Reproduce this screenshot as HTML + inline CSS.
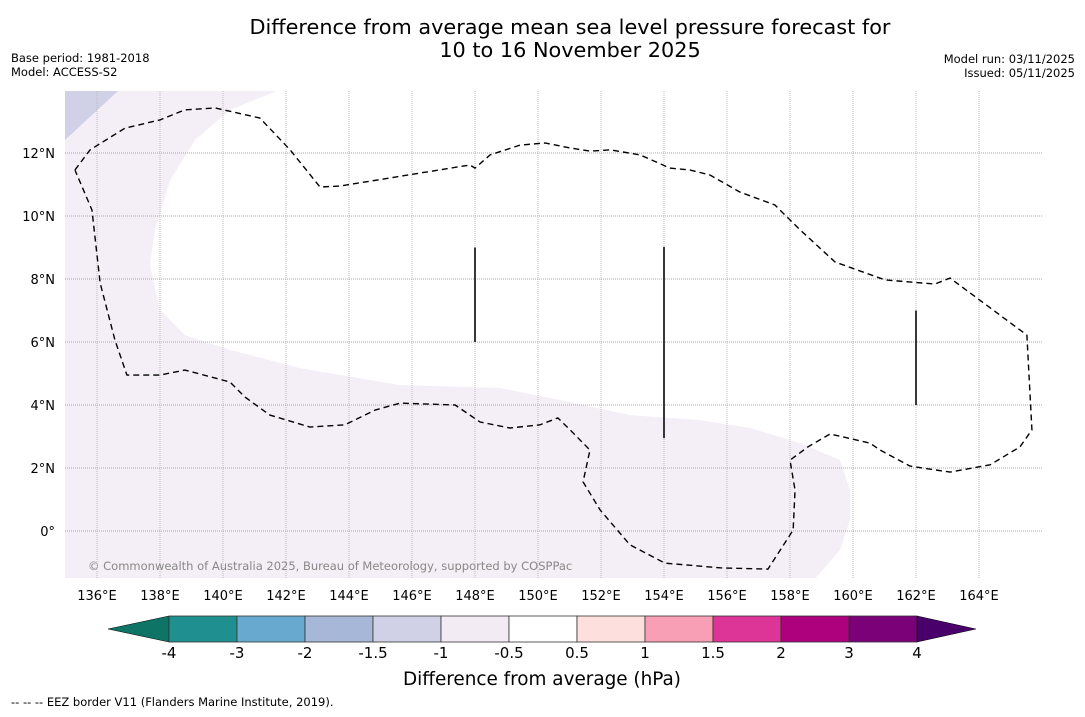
<!DOCTYPE html>
<html><head><meta charset="utf-8"><style>
body{margin:0;background:#fff;width:1085px;height:713px;overflow:hidden;font-family:"DejaVu Sans","Liberation Sans",sans-serif}
svg text{font-family:"DejaVu Sans","Liberation Sans",sans-serif}
</style></head><body>
<svg id="chart" width="1085" height="713" xmlns="http://www.w3.org/2000/svg">
<text x="570" y="34" font-size="20.8" text-anchor="middle">Difference from average mean sea level pressure forecast for</text>
<text x="570" y="57" font-size="20.8" text-anchor="middle">10 to 16 November 2025</text>
<text x="11" y="62" font-size="11.5">Base period: 1981-2018</text>
<text x="11" y="76" font-size="11.5">Model: ACCESS-S2</text>
<text x="1075" y="63" font-size="11.5" text-anchor="end">Model run: 03/11/2025</text>
<text x="1075" y="77" font-size="11.5" text-anchor="end">Issued: 05/11/2025</text>
<g id="map"></g>
<g id="cbar"></g>
<text x="542" y="685" font-size="18.4" text-anchor="middle">Difference from average (hPa)</text>
<text x="11" y="706" font-size="11.5">--  --  -- EEZ border V11 (Flanders Marine Institute, 2019).</text>
</svg>
<script>
const lonTicks=[136,138,140,142,144,146,148,150,152,154,156,158,160,162,164];
const latTicks=[0,2,4,6,8,10,12];
const anomPoly=[[134.98,13.97],[141.71,13.97],[140.22,13.37],[139.11,12.41],[138.32,11.14],[137.84,9.56],[137.68,8.44],[138.0,7.02],[138.79,6.22],[140.22,5.75],[142.44,5.17],[145.62,4.63],[148.79,4.54],[150.7,4.16],[152.92,3.68],[155.14,3.52],[156.73,3.27],[158.32,2.79],[159.59,2.25],[159.9,1.30],[159.9,0.35],[159.59,-0.60],[158.79,-1.52],[134.98,-1.52]];
const anomPoly2=[[134.98,13.97],[136.67,13.97],[134.98,12.41]];
const eezLon=[135.30,135.78,136.89,138.0,138.79,139.75,141.17,142.13,143.08,143.71,147.84,148.0,148.48,149.43,150.22,151.02,151.65,152.29,153.24,154.19,154.83,155.46,156.41,157.52,158.32,159.43,161.02,162.60,163.08,165.52,165.68,165.30,164.35,163.08,161.81,160.86,160.54,159.27,158.57,158.0,158.16,158.10,157.30,155.78,154.03,152.92,151.97,151.43,151.65,151.02,150.63,150.06,149.11,148.16,147.37,145.62,144.83,143.87,142.76,141.49,140.70,140.22,138.79,138.0,136.95,136.57,136.10,135.84,135.30];
const eezLat=[11.46,12.10,12.79,13.05,13.37,13.43,13.11,12.10,10.92,10.95,11.62,11.52,11.94,12.25,12.32,12.16,12.06,12.10,11.94,11.52,11.46,11.30,10.76,10.35,9.56,8.54,7.97,7.84,8.03,6.22,3.21,2.67,2.10,1.87,2.06,2.57,2.79,3.08,2.67,2.25,1.30,0.03,-1.21,-1.17,-1.02,-0.44,0.67,1.56,2.57,3.21,3.59,3.37,3.27,3.46,4.0,4.06,3.84,3.37,3.30,3.68,4.25,4.73,5.11,4.95,4.95,6.06,7.87,10.19,11.46];
const segLon=[148,154,162];
const segLat0=[6,2.95,4];
const segLat1=[9,9.02,7];
const cbLevels=["-4","-3","-2","-1.5","-1","-0.5","0.5","1","1.5","2","3","4"];
const cbColors=["#208f90","#67a9cf","#a6b7d8","#d0d1e6","#f2ebf4","#ffffff","#fde0dd","#f99fb5","#dd3497","#ae017e","#7a0177"];
const NS="http://www.w3.org/2000/svg";
const X=lon=>97+(lon-136)*31.5, Y=lat=>531-lat*31.5;
const map=document.getElementById('map');
function mk(tag,attrs,parent){const e=document.createElementNS(NS,tag);for(const k in attrs)e.setAttribute(k,attrs[k]);(parent||map).appendChild(e);return e;}
const clip=mk('clipPath',{id:'mc'});mk('rect',{x:65,y:91,width:977,height:487},clip);
const g=mk('g',{'clip-path':'url(#mc)'});
let p=mk('polygon',{points:anomPoly.map(d=>X(d[0])+','+Y(d[1])).join(' '),fill:'#f4eef6'},g);


p=mk('polygon',{points:anomPoly2.map(d=>X(d[0])+','+Y(d[1])).join(' '),fill:'#d0d1e6'},g);


lonTicks.forEach(l=>{const e=mk('line',{x1:X(l),x2:X(l),y1:91,y2:578,stroke:'#bbb','stroke-width':1,'stroke-dasharray':'1,1'},g);


const t=mk('text',{x:X(l),y:600,'font-size':13,'text-anchor':'middle'});t.textContent=l+'°E';

});
latTicks.forEach(l=>{const e=mk('line',{x1:65,x2:1042,y1:Y(l),y2:Y(l),stroke:'#aaa','stroke-width':1,'stroke-dasharray':'1,1'},g);


const t=mk('text',{x:55,y:Y(l)+5,'font-size':13,'text-anchor':'end'});t.textContent=l===0?'0°':l+'°N';

});
const eez=mk('polyline',{points:eezLon.map((l,i)=>X(l)+','+Y(eezLat[i])).join(' '),fill:'none',stroke:'#000','stroke-width':1.4,'stroke-dasharray':'6,4'},g);


segLon.forEach((l,i)=>{const e=mk('line',{x1:X(l),x2:X(l),y1:Y(segLat0[i]),y2:Y(segLat1[i]),stroke:'#222','stroke-width':1.8},g);

});
const cr=mk('text',{x:88,y:570,'font-size':11.5,fill:'#888'},g);cr.textContent='© Commonwealth of Australia 2025, Bureau of Meteorology, supported by COSPPac';


const cb=document.getElementById('cbar');
const bx=i=>169+i*68;
let tr=mk('polygon',{points:`108,629 ${bx(0)},616 ${bx(0)},642`,fill:'#0d7466',stroke:'#000','stroke-width':0.5},cb);


cbColors.forEach((c,i)=>{const r=mk('rect',{x:bx(i),y:616,width:68,height:26,fill:c,stroke:'#333','stroke-width':0.8},cb);

});
tr=mk('polygon',{points:`${bx(11)},616 976,629 ${bx(11)},642`,fill:'#49006a',stroke:'#000','stroke-width':0.5},cb);


cbLevels.forEach((v,i)=>{const t=mk('text',{x:bx(i),y:658,'font-size':15,'text-anchor':'middle'},cb);t.textContent=v;

});
</script>
</body></html>
